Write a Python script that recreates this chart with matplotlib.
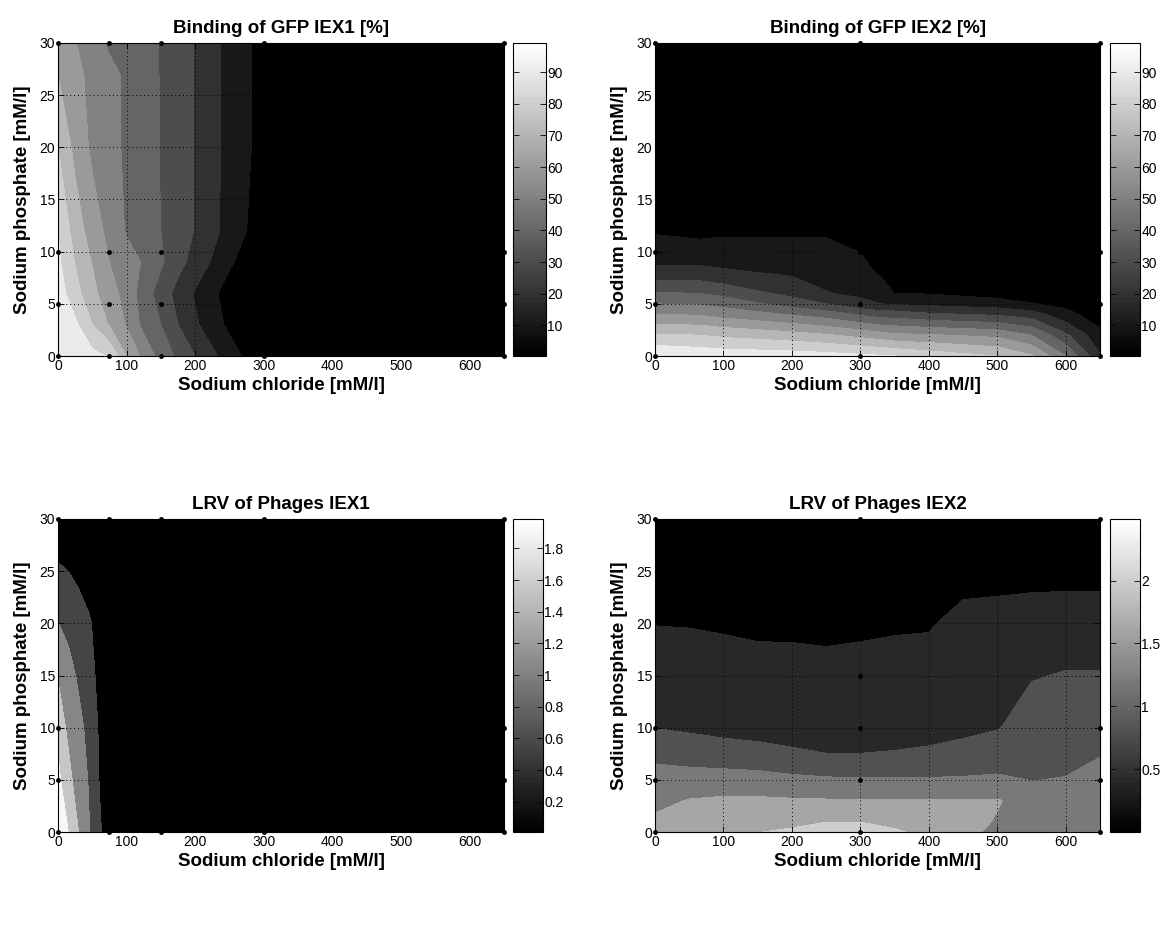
import numpy as np
import matplotlib
matplotlib.use("Agg")
import matplotlib.pyplot as plt
from matplotlib.colors import Normalize
from matplotlib.cm import ScalarMappable
from matplotlib.ticker import FuncFormatter

plt.rcParams['font.family'] = ['Liberation Sans', 'DejaVu Sans']

# design points (black dots)
iex1_nacl_pts = [0, 75, 150, 300, 650]
iex1_phos_pts = [0, 5, 10, 30]
iex2_pts_nacl = [0, 300, 650, 0, 300, 650, 0, 300, 650, 300, 0, 300, 650]
iex2_pts_phos = [0, 0, 0, 5, 5, 5, 10, 10, 10, 15, 30, 30, 30]

# Binding of GFP IEX1 [%]  (rows = phosphate, cols = NaCl)
gfp1_nacl = [0, 25, 50, 75, 100, 125, 150, 175, 200, 225, 250, 275, 300, 650]
gfp1_phos = [0, 3, 6, 9, 12, 20, 27, 30]
gfp1_vals = [
    [99.2, 96, 93, 89, 70, 57, 46, 38, 30, 22, 15, 8, 4, 0.5],
    [96, 92, 80, 69, 59, 47, 40, 30, 21.5, 15, 7.5, 4, 2, 0.5],
    [95, 84, 72.5, 64.5, 56, 45, 35.5, 26.5, 19, 12, 6, 3, 1.5, 0.5],
    [92, 79.5, 69.5, 60, 54.5, 49, 41.5, 33.5, 26, 19, 11.5, 6, 3, 0.5],
    [90, 75.5, 65, 57, 49, 44.5, 40, 34.5, 29.5, 23, 16, 10, 5, 0.5],
    [80, 67, 58, 53, 48.5, 44, 39.5, 34.5, 29.5, 23, 16.5, 11.5, 6, 0.5],
    [70, 63, 57, 52.5, 48.5, 44, 39.5, 34.5, 29.5, 23.5, 16.5, 11.5, 6, 0.5],
    [67, 60.5, 54, 48.5, 46, 43, 39.5, 34.5, 29.5, 23.5, 16.5, 11.5, 6, 0.3],
]

# Binding of GFP IEX2 [%]
gfp2_nacl = [0, 65, 100, 200, 250, 300, 330, 350, 400, 500, 550, 600, 650]
gfp2_phos = [0, 2, 4, 5, 6, 8, 10, 12, 30]
gfp2_vals = [
    [99.2, 97, 96, 95, 94, 92, 91, 90, 86, 80, 71, 50, 21],
    [81, 80, 78, 74, 71, 67, 64, 62, 61, 57.5, 50, 32, 12.6],
    [60, 59, 56, 49, 45, 38.5, 35, 35, 31.5, 28.5, 25, 13, 5],
    [50, 49, 46.5, 35.5, 30, 23, 20, 19, 17.5, 14.5, 10.5, 7.5, 3.5],
    [41, 40, 37, 27, 20.5, 18, 16, 9.8, 9.5, 6, 5.5, 4, 2],
    [23, 23.5, 21.5, 18.5, 16.5, 13.5, 8.5, 5, 4, 3, 3, 2, 1],
    [14.5, 13, 13.5, 13.5, 13, 9.8, 5, 3.5, 2.5, 2, 2, 1.5, 1],
    [9, 8, 8.5, 8.5, 8.5, 6, 3.5, 2.5, 2, 1.5, 1.5, 1, 0.5],
    [1, 1, 1, 1, 1, 1, 1, 1, 1, 0.5, 0.5, 0.3, 0.3],
]
gfp_levels = [10, 20, 30, 40, 50, 60, 70, 80, 90]

# LRV of Phages IEX1
lrv1_nacl = [0, 15, 30, 45, 60, 75, 150, 300, 650]
lrv1_phos = [0, 5, 10, 15, 20, 25, 30]
lrv1_vals = [
    [1.985, 1.9, 1.55, 1.08, 0.62, 0.3, 0.15, 0.1, 0.05],
    [1.97, 1.7, 1.3, 1.02, 0.54, 0.3, 0.15, 0.1, 0.05],
    [1.82, 1.45, 1.2, 0.9, 0.5, 0.28, 0.15, 0.1, 0.05],
    [1.52, 1.25, 0.97, 0.7, 0.45, 0.27, 0.14, 0.1, 0.05],
    [1.06, 0.9, 0.75, 0.6, 0.4, 0.25, 0.13, 0.09, 0.04],
    [0.6, 0.55, 0.45, 0.35, 0.3, 0.22, 0.12, 0.08, 0.03],
    [0.3, 0.28, 0.25, 0.22, 0.2, 0.18, 0.12, 0.08, 0.01],
]
lrv1_levels = [0.55, 1.05, 1.55, 1.9]

# LRV of Phages IEX2
lrv2_nacl = [0, 50, 100, 150, 200, 250, 300, 350, 400, 450, 500, 550, 600, 650]
lrv2_phos = [0, 1, 3, 5, 7, 10, 15, 20, 25, 30]
lrv2_vals = [
    [1.75, 1.85, 1.92, 1.99, 2.05, 2.3, 2.49, 2.05, 1.9, 1.75, 1.48, 1.35, 1.3, 1.45],
    [1.67, 1.78, 1.84, 1.88, 1.92, 1.98, 1.97, 1.9, 1.85, 1.74, 1.57, 1.4, 1.32, 1.42],
    [1.5, 1.62, 1.66, 1.66, 1.64, 1.63, 1.62, 1.62, 1.63, 1.62, 1.63, 1.42, 1.3, 1.35],
    [1.33, 1.37, 1.38, 1.36, 1.3, 1.26, 1.24, 1.24, 1.24, 1.25, 1.26, 1.19, 1.22, 1.28],
    [1.16, 1.09, 1.04, 1.0, 0.92, 0.84, 0.84, 0.86, 0.9, 0.95, 1.05, 1.1, 1.1, 1.21],
    [0.79, 0.74, 0.68, 0.64, 0.6, 0.62, 0.62, 0.64, 0.66, 0.72, 0.78, 0.95, 0.98, 1.02],
    [0.6, 0.6, 0.55, 0.53, 0.52, 0.5, 0.51, 0.53, 0.54, 0.6, 0.62, 0.78, 0.82, 0.82],
    [0.39, 0.38, 0.36, 0.33, 0.33, 0.32, 0.34, 0.36, 0.37, 0.5, 0.55, 0.6, 0.62, 0.62],
    [0.2, 0.2, 0.2, 0.18, 0.18, 0.18, 0.18, 0.18, 0.18, 0.28, 0.26, 0.26, 0.26, 0.26],
    [0.0, 0.05, 0.05, 0.05, 0.05, 0.05, 0.05, 0.05, 0.05, 0.08, 0.08, 0.08, 0.08, 0.08],
]
lrv2_levels = [0.4, 0.8, 1.2, 1.6, 2.0]

gray64 = matplotlib.colormaps['gray'].resampled(64)

fig = plt.figure(figsize=(11.64, 9.35), dpi=100)
W, H = 1164, 935


def box(l, t, r, b):
    return [l / W, 1 - b / H, (r - l) / W, (b - t) / H]


def panel(ax_box, cax_box, nacl, phos, vals, levels, px, py, cticks, title):
    ax = fig.add_axes(box(*ax_box))
    cax = fig.add_axes(box(*cax_box))
    z = np.array(vals)
    norm = Normalize(z.min(), z.max())
    bounds = [z.min() - 1e-9] + levels + [z.max() + 1e-9]
    colors = [gray64(norm(max(b, z.min()))) for b in bounds[:-1]]
    ax.contourf(nacl, phos, z, levels=bounds, colors=colors, antialiased=False, zorder=1)

    ax.plot(px, py, 'k.', ms=5, clip_on=False, zorder=4)

    ax.set_xlim(0, 650)
    ax.set_ylim(0, 30)
    ax.set_xticks(range(0, 650, 100))
    ax.set_yticks(range(0, 31, 5))
    ax.tick_params(direction='in', top=True, right=True, length=4, width=0.6, labelsize=10, pad=2)
    ax.grid(True, color='k', linestyle=(0, (1, 3)), linewidth=0.7)
    ax.set_axisbelow(False)
    for s in ax.spines.values():
        s.set_linewidth(0.8)
    ax.set_title(title, fontsize=13.5, fontweight='bold', pad=7)
    ax.set_xlabel('Sodium chloride [mM/l]', fontsize=13.5, fontweight='bold', labelpad=3)
    ax.set_ylabel('Sodium phosphate [mM/l]', fontsize=13.5, fontweight='bold', labelpad=6)

    sm = ScalarMappable(norm=norm, cmap=gray64)
    cb = fig.colorbar(sm, cax=cax, ticks=cticks)
    cb.ax.tick_params(direction='in', left=True, right=True, length=4, width=0.6, labelsize=10, pad=1)
    cb.ax.yaxis.set_major_formatter(FuncFormatter(lambda v, p: f'{v:g}'))
    cb.outline.set_linewidth(0.8)


X1, Y1 = np.meshgrid(iex1_nacl_pts, iex1_phos_pts)

panel((58, 43, 504, 356), (513, 43, 546, 356), gfp1_nacl, gfp1_phos, gfp1_vals, gfp_levels,
      X1.ravel(), Y1.ravel(), list(range(10, 91, 10)), 'Binding of GFP IEX1 [%]')
panel((655, 43, 1100, 356), (1110, 43, 1140, 356), gfp2_nacl, gfp2_phos, gfp2_vals, gfp_levels,
      iex2_pts_nacl, iex2_pts_phos, list(range(10, 91, 10)), 'Binding of GFP IEX2 [%]')
panel((58, 519, 504, 832), (513, 519, 543, 832), lrv1_nacl, lrv1_phos, lrv1_vals, lrv1_levels,
      X1.ravel(), Y1.ravel(), [0.2, 0.4, 0.6, 0.8, 1.0, 1.2, 1.4, 1.6, 1.8], 'LRV of Phages IEX1')
panel((655, 519, 1100, 832), (1110, 519, 1140, 832), lrv2_nacl, lrv2_phos, lrv2_vals, lrv2_levels,
      iex2_pts_nacl, iex2_pts_phos, [0.5, 1.0, 1.5, 2.0], 'LRV of Phages IEX2')

fig.savefig('out.png', dpi=100)
